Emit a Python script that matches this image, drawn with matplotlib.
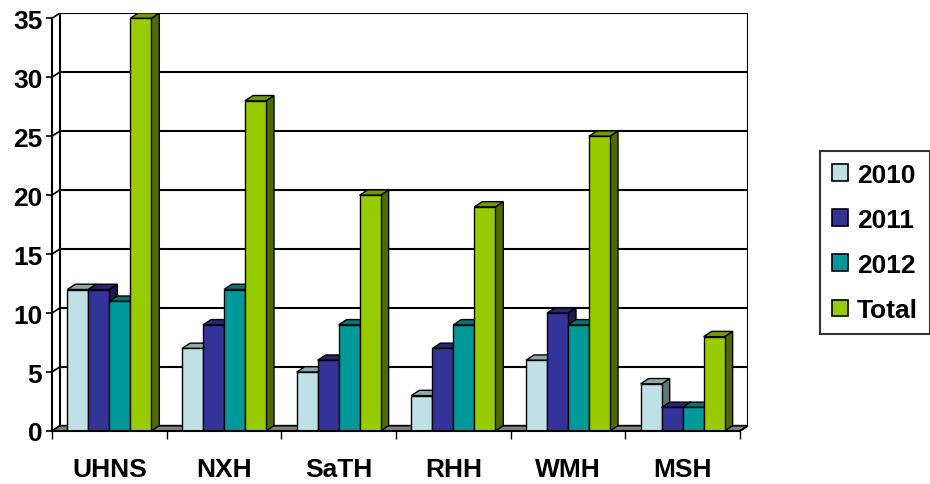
import matplotlib.pyplot as plt
from matplotlib.patches import Polygon, Patch
import matplotlib.colors as mcolors

plt.rcParams['font.family'] = ['Liberation Sans', 'DejaVu Sans']
plt.rcParams['font.weight'] = 'bold'

hospitals = ['UHNS', 'NXH', 'SaTH', 'RHH', 'WMH', 'MSH']
series = ['2010', '2011', '2012', 'Total']
y2010 = [12, 7, 5, 3, 6, 4]
y2011 = [12, 9, 6, 7, 10, 2]
y2012 = [11, 12, 9, 9, 9, 2]
total = [35, 28, 20, 19, 25, 8]
colors = ['#BFE0E4', '#333399', '#009999', '#99CC00']

values = [y2010, y2011, y2012, total]
yticks = list(range(0, 40, 5))

# fake 3d depth, in data units
dx, dy = 0.07, 0.45
bw = 0.183
left0 = (1 - 4 * bw) / 2
fs = 19


def shade(c, f):
    r, g, b = mcolors.to_rgb(c)
    return (r * f, g * f, b * f)


fig = plt.figure(figsize=(9.3, 4.85), dpi=100)
ax = fig.add_axes([52 / 930, 53 / 485, 696 / 930, 418 / 485])
ax.set_xlim(0, 6 + dx)
ax.set_ylim(0, 35 + dy)

# walls and floor
ax.add_patch(Polygon([(0, 0), (6, 0), (6 + dx, dy), (dx, dy)], closed=True,
                     facecolor='#808080', edgecolor='black', lw=1.2, zorder=1))
for v in yticks:
    ax.plot([dx, 6 + dx], [v + dy, v + dy], color='black', lw=1.5, zorder=0.5)
    ax.plot([0, dx], [v, v + dy], color='black', lw=1.2, zorder=0.5)
ax.plot([dx, dx], [dy, 35 + dy], color='black', lw=1.5, zorder=0.5)
ax.plot([6 + dx, 6 + dx], [dy, 35 + dy], color='black', lw=1.5, zorder=0.5)
ax.plot([6, 6 + dx], [0, dy], color='black', lw=1.2, zorder=1.2)

# bars: front face via bar(), then side and top faces
for i in range(len(hospitals)):
    for j, vals in enumerate(values):
        x = i + left0 + j * bw
        v = vals[i]
        z = 2 + i * 10 + j * 2
        side = Polygon([(x + bw, 0), (x + bw + dx, dy), (x + bw + dx, v + dy), (x + bw, v)],
                       closed=True, facecolor=shade(colors[j], 0.52), edgecolor='black',
                       lw=1.0, zorder=z)
        top = Polygon([(x, v), (x + dx, v + dy), (x + bw + dx, v + dy), (x + bw, v)],
                      closed=True, facecolor=shade(colors[j], 0.75), edgecolor='black',
                      lw=1.0, zorder=z)
        ax.add_patch(side)
        ax.add_patch(top)
        ax.bar(x, v, width=bw, align='edge', color=colors[j], edgecolor='black',
               lw=1.0, zorder=z + 1)

for s in ['top', 'right']:
    ax.spines[s].set_visible(False)
ax.spines['left'].set_bounds(0, 35)
ax.spines['bottom'].set_bounds(0, 6)
ax.spines['left'].set_linewidth(1.5)
ax.spines['bottom'].set_linewidth(1.5)
ax.spines['left'].set_zorder(100)
ax.spines['bottom'].set_zorder(100)

ax.set_yticks(yticks)
ax.tick_params(axis='y', direction='out', length=4, width=1.2, pad=3, labelsize=fs)
ax.set_xticks(range(7))
ax.set_xticklabels([])
ax.set_xticks([i + 0.5 for i in range(6)], minor=True)
ax.set_xticklabels(hospitals, minor=True)
ax.tick_params(axis='x', which='major', direction='out', length=6, width=1.0)
ax.tick_params(axis='x', which='minor', length=0, pad=19, labelsize=fs)

handles = [Patch(facecolor=c, edgecolor='black', lw=1.2) for c in colors]
leg = fig.legend(handles, series, loc='upper left', bbox_to_anchor=(820 / 930, 1 - 152 / 485),
                 frameon=True, fancybox=False, fontsize=fs, handlelength=0.6,
                 handleheight=0.6, handletextpad=0.35, labelspacing=0.8,
                 borderpad=0.45, borderaxespad=0)
leg.get_frame().set_edgecolor('black')
leg.get_frame().set_linewidth(1.5)

fig.savefig('out.png', dpi=100)
